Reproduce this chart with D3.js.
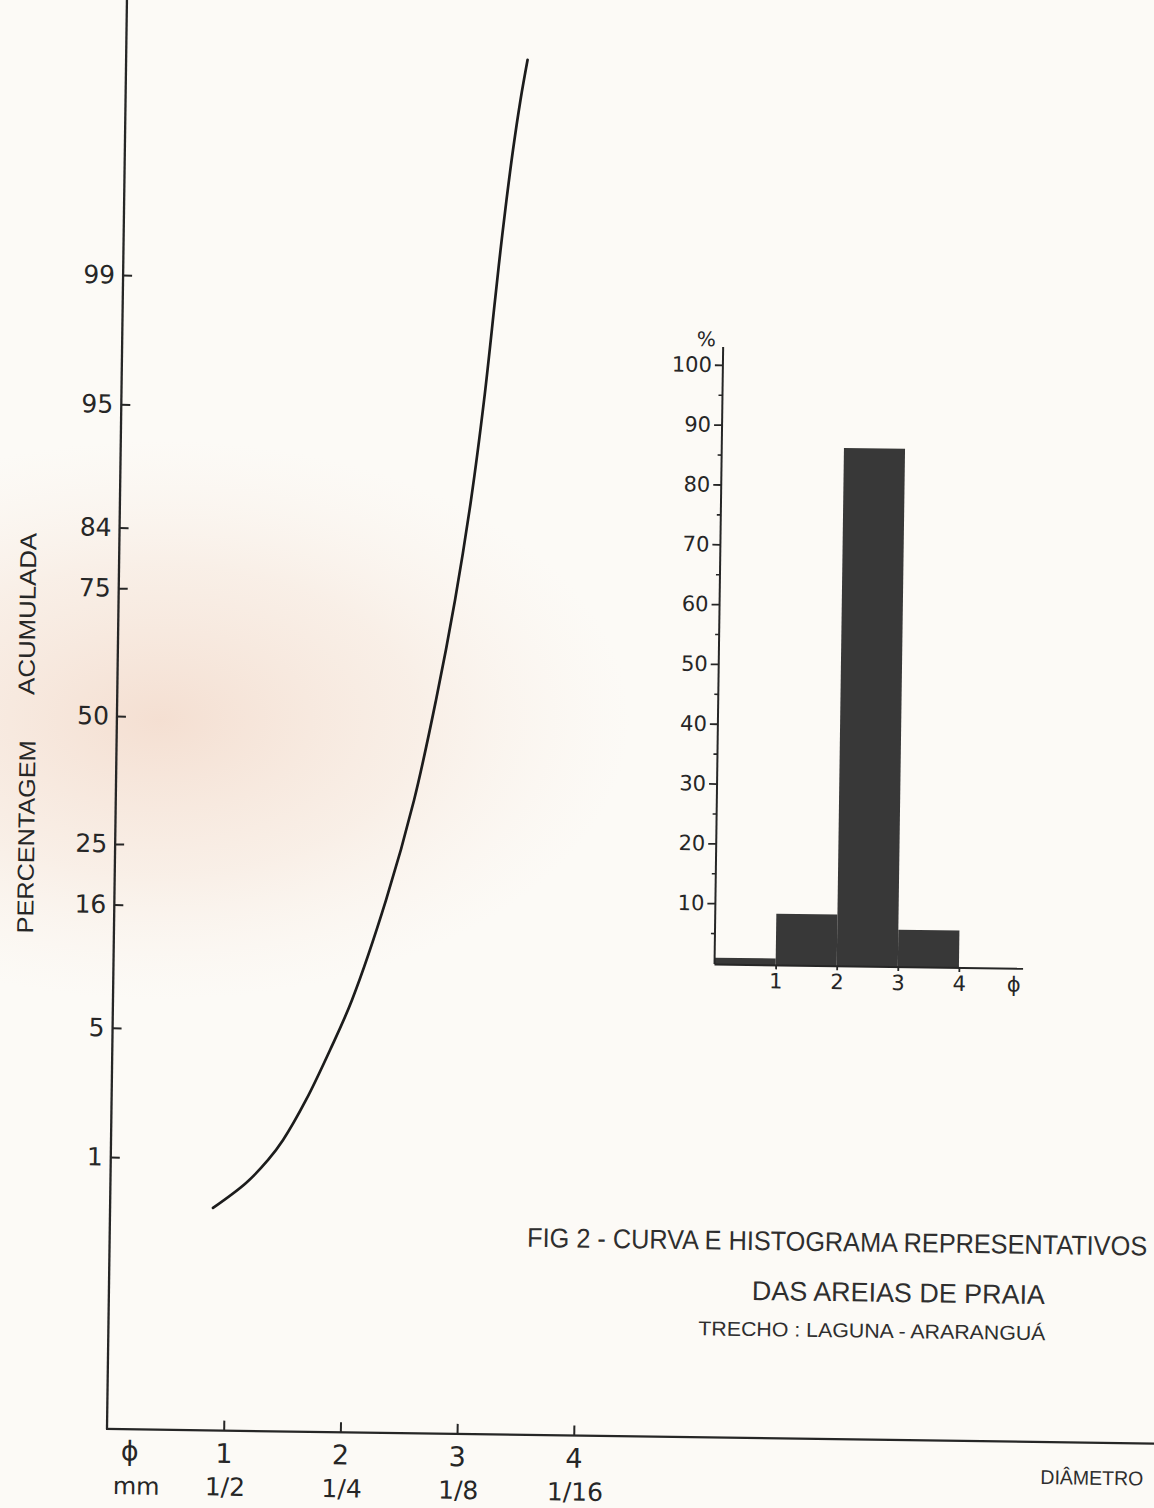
<!DOCTYPE html>
<html><head><meta charset="utf-8">
<script src="https://cdn.jsdelivr.net/npm/d3@7"></script>
<style>
html,body{margin:0;padding:0;background:#fcfaf6;}
svg{display:block}
</style></head>
<body>
<svg id="chart" width="1154" height="1508"></svg>
<script>
// ---------------- data ----------------
// cumulative curve: phi value and cumulative percent
const curvePhi = [0.882, 1.162, 1.348, 1.474, 1.666, 1.866, 2.048, 2.328, 2.556, 2.732, 2.883, 3.008, 3.108, 3.190, 3.231, 3.276, 3.326, 3.384, 3.440];
const curvePct = [0.484, 0.708, 0.989, 1.308, 2.216, 4.045, 6.94, 17.10, 33.70, 54.32, 73.81, 87.82, 95.49, 98.689, 99.356, 99.703, 99.872, 99.948, 99.976];
// probability-axis ticks
const probTicks = [1, 5, 16, 25, 50, 75, 84, 95, 99];
// diameter axis
const phiTicks = [1, 2, 3, 4];
const mmLabels = ["1/2", "1/4", "1/8", "1/16"];
// histogram
const histBinStart = [0, 1, 2, 3];
const histBinEnd = [1, 2, 3, 4];
const histPct = [0.9, 8.4, 86.4, 6.0];
const histMajorTicks = [10, 20, 30, 40, 50, 60, 70, 80, 90, 100];
const histMinorTicks = [5, 15, 25, 35, 45, 55, 65, 75, 85, 95];
const histPhiTicks = [1, 2, 3, 4];
// texts
const yTitleParts = ["PERCENTAGEM", "ACUMULADA"];
const titleLines = ["FIG 2 - CURVA E HISTOGRAMA REPRESENTATIVOS", "DAS AREIAS DE PRAIA", "TRECHO : LAGUNA - ARARANGUÁ"];
const xTitle = "DIÂMETRO";

// ---------------- probit (inverse normal CDF, Acklam) ----------------
function probit(p){
  const a=[-3.969683028665376e+01,2.209460984245205e+02,-2.759285104469687e+02,1.383577518672690e+02,-3.066479806614716e+01,2.506628277459239e+00];
  const b=[-5.447609879822406e+01,1.615858368580409e+02,-1.556989798598866e+02,6.680131188771972e+01,-1.328068155288572e+01];
  const c=[-7.784894002430293e-03,-3.223964580411365e-01,-2.400758277161838e+00,-2.549732539343734e+00,4.374664141464968e+00,2.938163982698783e+00];
  const d=[7.784695709041462e-03,3.224671290700398e-01,2.445134137142996e+00,3.754408661907416e+00];
  const pl=0.02425, ph=1-pl;
  let q,r;
  if(p<pl){ q=Math.sqrt(-2*Math.log(p));
    return (((((c[0]*q+c[1])*q+c[2])*q+c[3])*q+c[4])*q+c[5])/((((d[0]*q+d[1])*q+d[2])*q+d[3])*q+1); }
  if(p<=ph){ q=p-0.5; r=q*q;
    return (((((a[0]*r+a[1])*r+a[2])*r+a[3])*r+a[4])*r+a[5])*q/(((((b[0]*r+b[1])*r+b[2])*r+b[3])*r+b[4])*r+1); }
  q=Math.sqrt(-2*Math.log(1-p));
  return -(((((c[0]*q+c[1])*q+c[2])*q+c[3])*q+c[4])*q+c[5])/((((d[0]*q+d[1])*q+d[2])*q+d[3])*q+1);
}

// ---------------- layout ----------------
const svg = d3.select("#chart");
const INK = "#262626";
const FONT = "'Liberation Sans', Arial, sans-serif";
const NUM = "'DejaVu Sans', sans-serif";

const defs = svg.append("defs");
const rg = defs.append("radialGradient").attr("id","peach");
rg.append("stop").attr("offset","0%").attr("stop-color","#eec9b4").attr("stop-opacity",0.55);
rg.append("stop").attr("offset","55%").attr("stop-color","#f1d5c3").attr("stop-opacity",0.3);
rg.append("stop").attr("offset","100%").attr("stop-color","#f6e6da").attr("stop-opacity",0);

svg.append("rect").attr("width",1154).attr("height",1508).attr("fill","#fcfaf6");
svg.append("ellipse").attr("cx",160).attr("cy",720).attr("rx",470).attr("ry",280).attr("fill","url(#peach)");

const g = svg.append("g").attr("transform","rotate(0.8,108,1428)");

// scales - main chart
const xPhi = d3.scaleLinear().domain([0,4]).range([107, 573.8]);
const zScale = d3.scaleLinear().domain([probit(0.01), probit(0.99)]).range([1157, 275]);
const yProb = p => zScale(probit(p/100));
const baseY = 1429;

// axes lines
g.append("line").attr("x1",xPhi(0)).attr("x2",xPhi(0)).attr("y1",-30).attr("y2",baseY)
  .attr("stroke",INK).attr("stroke-width",2.3);
g.append("line").attr("x1",xPhi(0)-1).attr("x2",1175).attr("y1",baseY).attr("y2",baseY)
  .attr("stroke",INK).attr("stroke-width",2.3);

// y axis (probability)
const yAx = g.append("g").attr("transform",`translate(${xPhi(0)},0)`)
  .call(d3.axisLeft(zScale).tickValues(probTicks.map(p=>probit(p/100)))
    .tickFormat((d,i)=>probTicks[i]).tickSizeInner(-9).tickSizeOuter(0).tickPadding(8));
yAx.select(".domain").remove();
yAx.selectAll(".tick line").attr("stroke",INK).attr("stroke-width",2);
yAx.selectAll(".tick text").attr("font-family",NUM).attr("font-size",25).attr("fill",INK);

// x axis (phi)
const xAx = g.append("g").attr("transform",`translate(0,${baseY})`)
  .call(d3.axisBottom(xPhi).tickValues(phiTicks).tickFormat(d3.format("d"))
    .tickSizeInner(-10).tickSizeOuter(0).tickPadding(13));
xAx.select(".domain").remove();
xAx.selectAll(".tick line").attr("stroke",INK).attr("stroke-width",2);
xAx.selectAll(".tick text").attr("font-family",NUM).attr("font-size",27).attr("fill",INK);

g.append("text").attr("x",130).attr("y",baseY+12).attr("dy","0.71em").attr("text-anchor","middle")
  .attr("font-family",NUM).attr("font-size",27).attr("fill",INK).text("\u03D5");
g.append("text").attr("x",137).attr("y",1494).attr("text-anchor","middle")
  .attr("font-family",NUM).attr("font-size",24).attr("fill",INK).text("mm");
g.selectAll("text.mm").data(mmLabels).join("text").attr("class","mm")
  .attr("x",(d,i)=>xPhi(phiTicks[i])+2).attr("y",1494).attr("text-anchor","middle")
  .attr("font-family",NUM).attr("font-size",25).attr("fill",INK).text(d=>d);

// y title
g.append("text").attr("transform","translate(26,838) rotate(-90)").attr("text-anchor","middle")
  .attr("font-family",FONT).attr("font-size",23).attr("fill",INK)
  .attr("textLength",193).attr("lengthAdjust","spacingAndGlyphs").text(yTitleParts[0]);
g.append("text").attr("transform","translate(24,615) rotate(-90)").attr("text-anchor","middle")
  .attr("font-family",FONT).attr("font-size",23).attr("fill",INK)
  .attr("textLength",162).attr("lengthAdjust","spacingAndGlyphs").text(yTitleParts[1]);

// cumulative curve
const curveData = curvePhi.map((p,i)=>({phi:p, pct:curvePct[i]}));
g.append("path").datum(curveData)
  .attr("d", d3.line().x(d=>xPhi(d.phi)).y(d=>yProb(d.pct)).curve(d3.curveCatmullRom.alpha(0.5)))
  .attr("fill","none").attr("stroke","#1c1c1c").attr("stroke-width",2.7).attr("stroke-linecap","round");

// ---------------- histogram ----------------
const xH = d3.scaleLinear().domain([0,4]).range([708, 952.4]);
const yH = d3.scaleLinear().domain([0,100]).range([954.6, 356.4]);

const bars = histPct.map((v,i)=>({x0:histBinStart[i], x1:histBinEnd[i], v}));
g.selectAll("rect.bar").data(bars).join("rect").attr("class","bar")
  .attr("x",d=>xH(d.x0)).attr("width",d=>xH(d.x1)-xH(d.x0))
  .attr("y",d=>yH(d.v)).attr("height",d=>yH(0)-yH(d.v)+1.5)
  .attr("fill","#383838");

g.append("line").attr("x1",xH(0)).attr("x2",xH(0)).attr("y1",yH(0)+1).attr("y2",yH(103))
  .attr("stroke",INK).attr("stroke-width",2);
g.append("line").attr("x1",xH(0)).attr("x2",xH(5.05)).attr("y1",yH(0)+1.5).attr("y2",yH(0)+1.5)
  .attr("stroke",INK).attr("stroke-width",2);

const hY = g.append("g").attr("transform",`translate(${xH(0)},0)`)
  .call(d3.axisLeft(yH).tickValues(histMajorTicks).tickFormat(d3.format("d"))
    .tickSizeInner(8).tickSizeOuter(0).tickPadding(3));
hY.select(".domain").remove();
hY.selectAll(".tick line").attr("stroke",INK).attr("stroke-width",1.8);
hY.selectAll(".tick text").attr("font-family",NUM).attr("font-size",21).attr("fill",INK);
const hYm = g.append("g").attr("transform",`translate(${xH(0)},0)`)
  .call(d3.axisLeft(yH).tickValues(histMinorTicks).tickSizeInner(4).tickSizeOuter(0).tickFormat(""));
hYm.select(".domain").remove();
hYm.selectAll(".tick line").attr("stroke",INK).attr("stroke-width",1.6);

const hX = g.append("g").attr("transform",`translate(0,${yH(0)+1.5})`)
  .call(d3.axisBottom(xH).tickValues(histPhiTicks).tickFormat(d3.format("d"))
    .tickSizeInner(4).tickSizeOuter(0).tickPadding(4));
hX.select(".domain").remove();
hX.selectAll(".tick line").attr("stroke",INK).attr("stroke-width",1.8);
hX.selectAll(".tick text").attr("font-family",NUM).attr("font-size",21).attr("fill",INK);
g.append("text").attr("x",xH(4.9)).attr("y",yH(0)+9.5).attr("dy","0.71em").attr("text-anchor","middle")
  .attr("font-family",NUM).attr("font-size",21).attr("fill",INK).text("\u03D5");
g.append("text").attr("x",691).attr("y",338).attr("text-anchor","middle")
  .attr("font-family",NUM).attr("font-size",20).attr("fill",INK).text("%");

// ---------------- titles ----------------
const tl = [
  {x:524.5, y:1241, size:24.2, sy:1.12, len:620},
  {x:750, y:1291, size:27, sy:1, len:293},
  {x:697, y:1327, size:20, sy:1, len:347}
];
g.selectAll("text.title").data(titleLines).join("text").attr("class","title")
  .attr("transform",(d,i)=>`translate(${tl[i].x},${tl[i].y}) scale(1,${tl[i].sy})`)
  .attr("font-family",FONT).attr("font-size",(d,i)=>tl[i].size).attr("fill","#2e2e2e")
  .attr("textLength",(d,i)=>tl[i].len).attr("lengthAdjust","spacingAndGlyphs")
  .text(d=>d);
g.append("text").attr("x",1041).attr("y",1471).attr("font-family",FONT).attr("font-size",20)
  .attr("fill","#2e2e2e").attr("textLength",103).attr("lengthAdjust","spacingAndGlyphs").text(xTitle);
</script>
</body></html>
